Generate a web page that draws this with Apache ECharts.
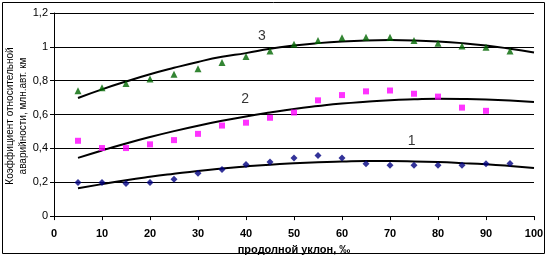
<!DOCTYPE html>
<html><head><meta charset="utf-8">
<script src="https://cdn.jsdelivr.net/npm/echarts@6/dist/echarts.min.js"></script>
<style>html,body{margin:0;padding:0;background:#fff}#c{width:550px;height:260px}</style>
</head><body><div id="c"></div>
<script>
const xs = [5,10,15,20,25,30,35,40,45,50,55,60,65,70,75,80,85,90,95];
const xs2 = [5,10,15,20,25,30,35,40,45,50,55,60,65,70,75,80,85,90];
const pts3 = [0.74,0.758,0.783,0.81,0.838,0.871,0.908,0.943,0.976,1.015,1.038,1.054,1.057,1.057,1.038,1.022,1.005,0.997,0.976];
const pts2 = [0.445,0.402,0.402,0.424,0.449,0.486,0.535,0.552,0.581,0.612,0.684,0.715,0.737,0.742,0.723,0.706,0.641,0.622];
const pts1 = [0.198,0.198,0.192,0.198,0.218,0.253,0.276,0.305,0.319,0.344,0.358,0.344,0.309,0.301,0.3,0.301,0.3,0.309,0.311];
const trendX = [5,10,15,20,25,30,35,40,45,50,55,60,65,70,75,80,85,90,95,100];
const trend3 = [0.698,0.749,0.795,0.838,0.876,0.911,0.941,0.963,0.989,1.008,1.022,1.032,1.038,1.04,1.038,1.032,1.022,1.008,0.989,0.967];
const trend2 = [0.344,0.388,0.429,0.467,0.502,0.534,0.563,0.589,0.612,0.633,0.650,0.665,0.676,0.685,0.690,0.693,0.692,0.689,0.683,0.674];
const trend1 = [0.165,0.189,0.212,0.232,0.250,0.267,0.281,0.293,0.304,0.312,0.318,0.322,0.325,0.325,0.323,0.319,0.313,0.306,0.296,0.284];
const xTicks = [0,10,20,30,40,50,60,70,80,90,100];
const yTicks = ['0','0,2','0,4','0,6','0,8','1','1,2'];
const curveLabels = ['1','2','3'];
const yTitle = ['Коэффициент относительной','аварийности, млн.авт. км'];
const xTitle = 'продолной уклон, ‰';

const zip = (a,b)=>a.map((v,i)=>[v,b[i]]);
const chart = echarts.init(document.getElementById('c'));
const trendStyle = {type:'line', smooth:true, showSymbol:false, symbol:'none', lineStyle:{color:'#000',width:2}, z:3, animation:false};
chart.setOption({
  animation:false,
  grid:{left:54,right:16,top:13,bottom:41},
  xAxis:{type:'value',min:0,max:100,interval:10,
    axisLine:{lineStyle:{color:'#000',width:1}},
    axisTick:{show:true,length:4,lineStyle:{color:'#000'}},
    axisLabel:{color:'#000',fontFamily:'Liberation Sans',fontWeight:'bold',fontSize:11,margin:12,formatter:v=>String(v)},
    splitLine:{show:false},
    name:xTitle,nameLocation:'middle',nameGap:27,
    nameTextStyle:{color:'#000',fontFamily:'Liberation Sans',fontWeight:'bold',fontSize:11}},
  yAxis:{type:'value',min:0,max:1.2,interval:0.2,
    axisLine:{show:true,lineStyle:{color:'#000',width:1}},
    axisTick:{show:true,length:4,lineStyle:{color:'#000'}},
    axisLabel:{color:'#000',fontFamily:'Liberation Sans',fontSize:11,margin:6,
      formatter:v=>yTicks[Math.round(v/0.2)]},
    splitLine:{show:true,lineStyle:{color:'#000',width:1}}},
  graphic:[
    {type:'rect',shape:{x:2.5,y:2.5,width:542,height:251},style:{fill:'none',stroke:'#000',lineWidth:1},silent:true},
    {type:'text',x:10,y:116,rotation:Math.PI/2,style:{text:yTitle[0],fill:'#000',font:'10px "Liberation Sans"',align:'center',verticalAlign:'middle'}},
    {type:'text',x:23,y:116,rotation:Math.PI/2,style:{text:yTitle[1],fill:'#000',font:'10px "Liberation Sans"',align:'center',verticalAlign:'middle'}}
  ],
  series:[
    Object.assign({data:zip(trendX,trend3)},trendStyle),
    Object.assign({data:zip(trendX,trend2)},trendStyle),
    Object.assign({data:zip(trendX,trend1)},trendStyle),
    {type:'scatter',data:zip(xs,pts3),symbol:'triangle',symbolSize:7,itemStyle:{color:'#006600'},z:4},
    {type:'scatter',data:zip(xs2,pts2),symbol:'rect',symbolSize:6,itemStyle:{color:'#ff00ff'},z:4},
    {type:'scatter',data:zip(xs,pts1),symbol:'diamond',symbolSize:7,itemStyle:{color:'#000080'},z:4},
    {type:'scatter',symbolSize:0,silent:true,z:5,
      data:[[74.5,0.44,curveLabels[0]],[39.8,0.69,curveLabels[1]],[43.3,1.065,curveLabels[2]]],
      label:{show:true,position:'inside',formatter:p=>p.data[2],color:'#000',fontFamily:'Liberation Sans',fontSize:14}}
  ]
});
</script></body></html>
